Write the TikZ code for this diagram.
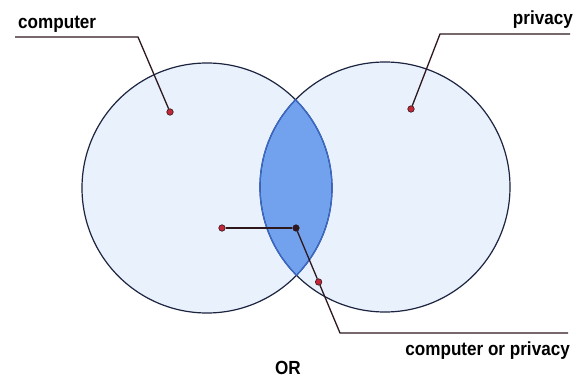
\documentclass[tikz,border=0pt]{standalone}
\usepackage{fontspec}
\newfontfamily\lblfont{Liberation Sans}[FakeStretch=0.9]
\definecolor{setfill}{HTML}{E8F1FC}
\definecolor{lensfill}{HTML}{72A2EE}
\definecolor{lensline}{HTML}{3A6CD0}
\definecolor{rimline}{HTML}{1C2440}
\definecolor{leader}{HTML}{2E181C}
\definecolor{dotred}{HTML}{C42838}
\tikzset{
  setcircle/.style={circle, minimum size=250pt, inner sep=0pt, draw=rimline, line width=1.2pt},
  leaderline/.style={draw=leader, line width=1.3pt},
  dotnode/.style={circle, fill=dotred, draw=leader, line width=0.6pt, minimum size=6.5pt, inner sep=0pt},
  darkdot/.style={dotnode, fill=leader},
  lbl/.style={inner sep=0pt, font=\lblfont\bfseries\fontsize{19}{20}\selectfont, text=black},
}
\begin{document}
\begin{tikzpicture}[x=1pt,y=-1pt]
\useasboundingbox[fill=white] (0,0) rectangle (578,377);
% sets
\coordinate (Lc) at (207,188);
\coordinate (Rc) at (385,187);
\fill[setfill] (Lc) circle (125);
\fill[setfill] (Rc) circle (125);
\begin{scope}
  \clip (Lc) circle (125);
  \fill[lensfill] (Rc) circle (125);
\end{scope}
\node[setcircle] (left) at (Lc) {};
\node[setcircle] (right) at (Rc) {};
\begin{scope}
  \clip (Rc) circle (125);
  \draw[lensline, line width=1.2pt] (Lc) circle (125);
\end{scope}
\begin{scope}
  \clip (Lc) circle (125);
  \draw[lensline, line width=1.2pt] (Rc) circle (125);
\end{scope}
% labels
\node[lbl, anchor=base west] (tcomp) at (18,29) {computer};
\node[lbl, anchor=base east] (tpriv) at (573,25) {privacy};
\node[lbl, anchor=base east] (tor) at (570,355) {computer or privacy};
\node[lbl, anchor=base] (top) at (288,374) {OR};
% leader geometry
\coordinate (kc) at (138,37);
\coordinate (ec) at (15,37);
\coordinate (kp) at (440,34);
\coordinate (ep) at (570,34);
\coordinate (ko) at (340,333);
\coordinate (eo) at (568,333);
\node[dotnode] (dcomp) at (170,112) {};
\node[dotnode] (dpriv) at (411,109) {};
\node[dotnode] (dleft) at (222,228) {};
\node[darkdot] (dlens) at (296,228) {};
\path (dlens.center) -- (ko) node[dotnode, pos=0.514] (dmid) {};
% leaders
\draw[leaderline] (dcomp) -- (kc) -- (ec);
\draw[leaderline] (dpriv) -- (kp) -- (ep);
\draw[leaderline] (dleft) -- (dlens);
\draw[leaderline] (dlens) -- (dmid);
\draw[leaderline] (dmid) -- (ko) -- (eo);
\end{tikzpicture}
\end{document}
